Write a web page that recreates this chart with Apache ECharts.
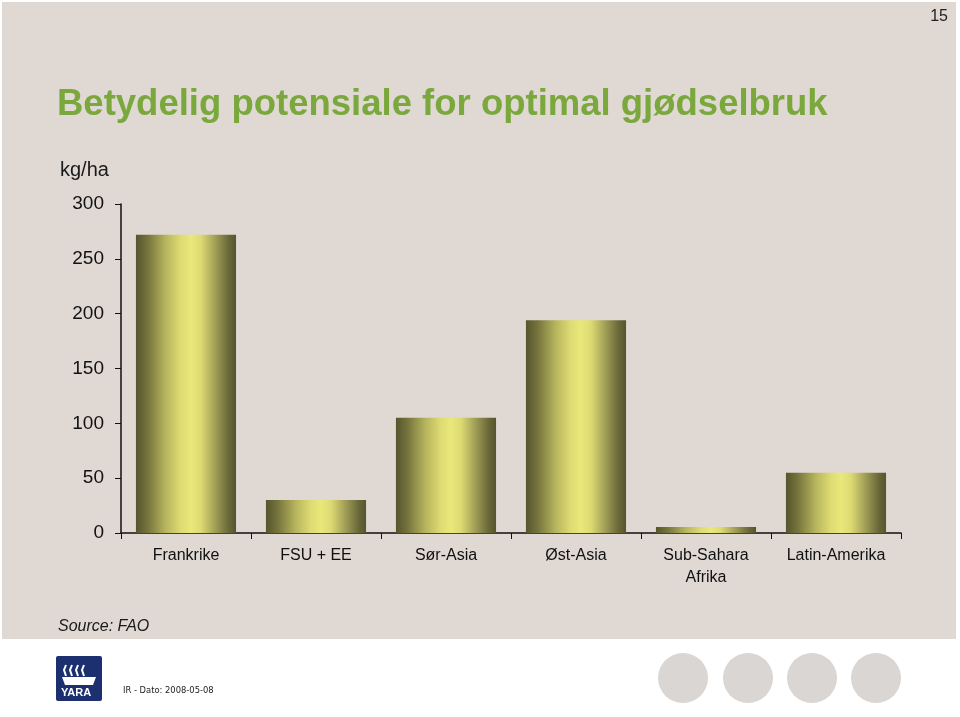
<!DOCTYPE html>
<html>
<head>
<meta charset="utf-8">
<script src="https://cdn.jsdelivr.net/npm/echarts@6/dist/echarts.min.js"></script>
<style>
html,body{margin:0;padding:0;background:#ffffff;}
#chart{width:960px;height:717px;}
</style>
</head>
<body>
<div id="chart"></div>
<script>
const categories = ['Frankrike', 'FSU + EE', 'Sør-Asia', 'Øst-Asia', 'Sub-Sahara\nAfrika', 'Latin-Amerika'];
const values = [272, 30, 105, 194, 5.5, 55];
const yTicks = [0, 50, 100, 150, 200, 250, 300];

const barGradient = {
  type: 'linear', x: 0, y: 0, x2: 1, y2: 0,
  colorStops: [
    {offset: 0, color: '#55542e'},
    {offset: 0.12, color: '#77753d'},
    {offset: 0.3, color: '#b8b65e'},
    {offset: 0.45, color: '#dedc72'},
    {offset: 0.55, color: '#e9e87b'},
    {offset: 0.65, color: '#dcda72'},
    {offset: 0.8, color: '#9e9b55'},
    {offset: 0.92, color: '#6c6a3a'},
    {offset: 1, color: '#56542e'}
  ]
};

const chart = echarts.init(document.getElementById('chart'), null, {renderer: 'canvas'});
const font = '"Liberation Sans", Arial, sans-serif';
chart.setOption({
  backgroundColor: '#ffffff',
  animation: false,
  textStyle: {fontFamily: font},
  graphic: [
    {type: 'rect', z: -10, shape: {x: 2, y: 2, width: 954, height: 637}, style: {fill: '#dfd8d3'}},
    {type: 'text', left: 57, top: 86, style: {text: 'Betydelig potensiale for optimal gjødselbruk', font: 'bold 36.5px ' + font, fill: '#7aa83c'}},
    {type: 'text', right: 12, top: 9, style: {text: '15', font: '16px ' + font, fill: '#222222'}},
    {type: 'text', left: 60, top: 160, style: {text: 'kg/ha', font: '20px ' + font, fill: '#1a1a1a'}},
    {type: 'text', left: 58, top: 619, style: {text: 'Source: FAO', font: 'italic 16px ' + font, fill: '#1a1a1a'}},
    {type: 'rect', shape: {x: 56, y: 656, width: 46, height: 45, r: 2}, style: {fill: '#1c2f6e'}},
    {type: 'text', left: 61, top: 687, style: {text: 'YARA', font: 'bold 11px ' + font, fill: '#ffffff'}},
    {type: 'polyline', shape: {points: [[66,665],[64,670],[66,676]]}, style: {stroke: '#ffffff', lineWidth: 2, fill: null}},
    {type: 'polyline', shape: {points: [[72,665],[70,670],[72,676]]}, style: {stroke: '#ffffff', lineWidth: 2, fill: null}},
    {type: 'polyline', shape: {points: [[78,665],[76,670],[78,676]]}, style: {stroke: '#ffffff', lineWidth: 2, fill: null}},
    {type: 'polyline', shape: {points: [[84,665],[82,670],[84,676]]}, style: {stroke: '#ffffff', lineWidth: 2, fill: null}},
    {type: 'polygon', shape: {points: [[62,677],[96,677],[93,685],[65,685]]}, style: {fill: '#ffffff'}},
    {type: 'text', left: 123, top: 686, style: {text: 'IR - Dato: 2008-05-08', font: '9.3px "DejaVu Sans Condensed", "DejaVu Sans", sans-serif', fill: '#222222'}},
    {type: 'circle', shape: {cx: 683, cy: 678, r: 25}, style: {fill: '#d9d6d4'}},
    {type: 'circle', shape: {cx: 748, cy: 678, r: 25}, style: {fill: '#d9d6d4'}},
    {type: 'circle', shape: {cx: 812, cy: 678, r: 25}, style: {fill: '#d9d6d4'}},
    {type: 'circle', shape: {cx: 876, cy: 678, r: 25}, style: {fill: '#d9d6d4'}}
  ],
  grid: {left: 121, right: 59, top: 204, bottom: 184, containLabel: false},
  xAxis: {
    type: 'category',
    data: categories,
    axisLine: {lineStyle: {color: '#111111', width: 1.5}},
    axisTick: {show: true, length: 6, alignWithLabel: false, lineStyle: {color: '#111111'}},
    axisLabel: {color: '#111111', fontSize: 16, margin: 12, lineHeight: 22, fontFamily: font, interval: 0}
  },
  yAxis: {
    type: 'value',
    min: 0, max: 300, interval: 50,
    axisLine: {show: true, lineStyle: {color: '#111111', width: 1.5}},
    axisTick: {show: true, length: 6, lineStyle: {color: '#111111'}},
    splitLine: {show: false},
    axisLabel: {color: '#111111', fontSize: 19, margin: 17, fontFamily: font,
      formatter: function (v) { return yTicks.indexOf(v) >= 0 ? String(v) : ''; }}
  },
  series: [{
    type: 'bar',
    data: values,
    barWidth: '77%',
    itemStyle: {color: barGradient}
  }]
});
</script>
</body>
</html>
